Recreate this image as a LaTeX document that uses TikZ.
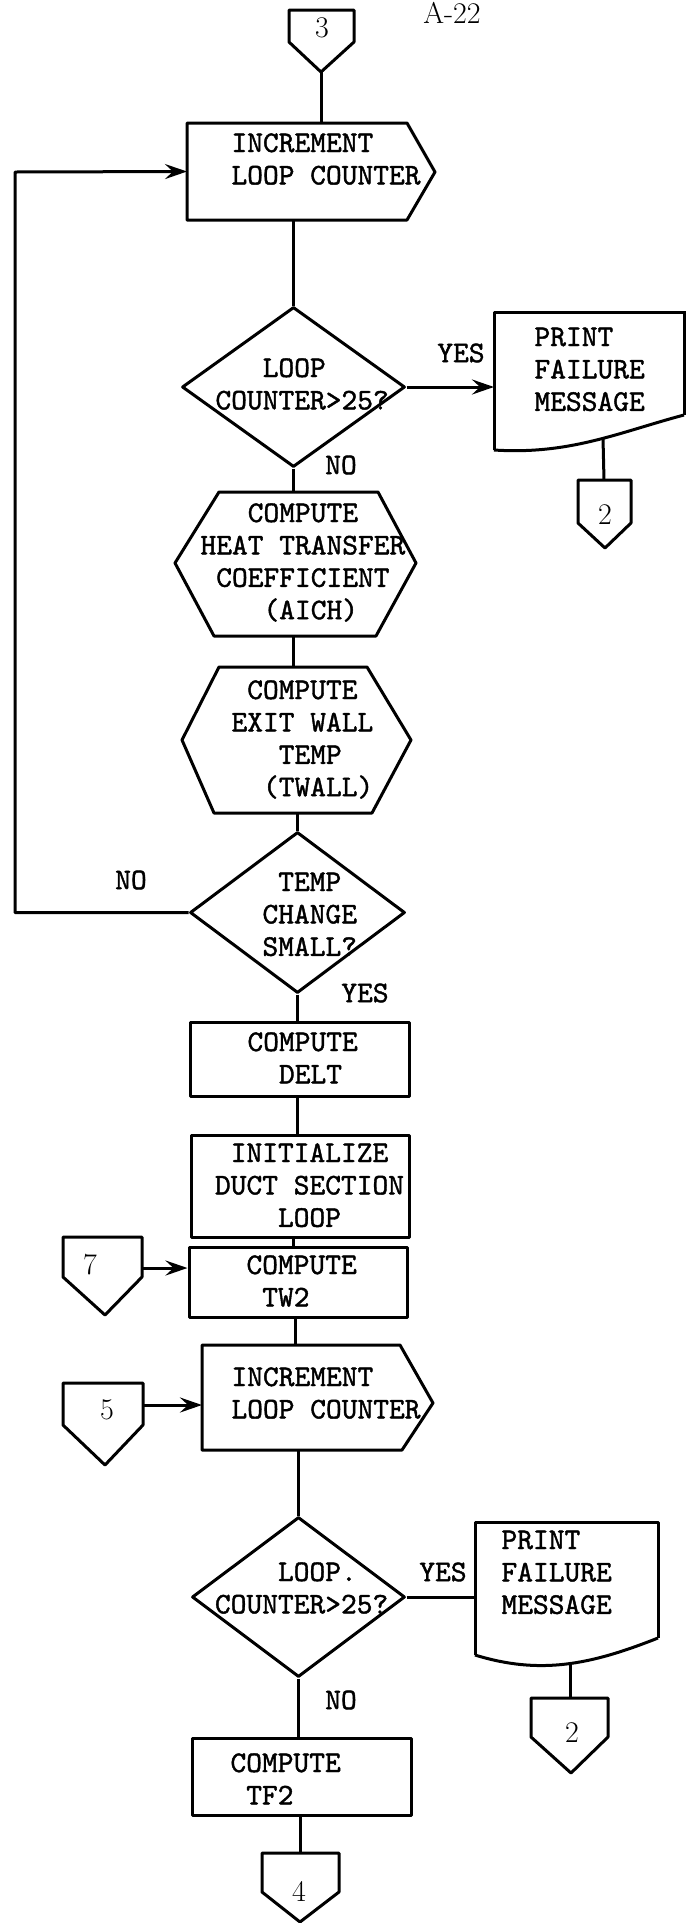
\documentclass[tikz,border=0pt]{standalone}
\usepackage{fontspec}
\newfontfamily\typew{lmmono10-regular.otf}[FakeBold=1.4]
\usetikzlibrary{shapes.geometric,arrows.meta}
% monospaced indent of as many characters as the argument has
\newcommand\pad[1]{\phantom{#1}}
% left-aligned block of typed lines; its baseline is that of the first line
\newcommand\tlines[1]{\vtop{\halign{##\hfil\cr#1\crcr}}}

\begin{document}
\begin{tikzpicture}[x=1pt,y=-1pt,line width=3pt,line join=round,
  flow/.style={draw,line width=3pt},
  frame/.style={rectangle,inner sep=0pt,outer sep=0pt},
  diam/.style={diamond,draw,inner sep=0pt},
  procbox/.style={rectangle,draw,inner sep=0pt},
  txt/.style={font=\typew\fontsize{30}{32.4}\selectfont,inner sep=0pt,anchor=base west},
  lbl/.style={font=\typew\fontsize{30}{32.4}\selectfont,inner sep=0pt},
  digit/.style={font=\fontsize{30}{32}\selectfont,inner sep=0pt},
  arr/.style={-{Stealth[length=22pt,width=15pt,inset=8pt]}}]
\useasboundingbox (0,0) rectangle (686,1923);

% page number
\node[digit,anchor=north] (page) at (452,1) {A-22};

% entry connector 3
\draw[flow] (289,10) -- (354,10) -- (354,42) -- (321,72) -- (289,42) -- cycle;
\node[digit] (c3) at (322,28) {3};
\coordinate (c3tip) at (321,72);

% increment loop counter (first loop)
\node[frame,minimum width=220pt,minimum height=97pt] (inc1) at (297,171.5) {};
\draw[flow] (inc1.north west) -- (inc1.north east) -- (435,172) -- (inc1.south east) -- (inc1.south west) -- cycle;
\node[txt] (inc1t) at (230,152) {\tlines{INCREMENT\cr LOOP COUNTER}};
\draw (c3tip) -- (c3tip |- inc1.north);

% loop counter test
\node[diam,minimum width=223pt,minimum height=160pt] (d1) at (293.5,387) {};
\node[txt] (d1t) at (214,377) {\tlines{\pad{XXX}LOOP\cr COUNTER>25?}};
\draw (d1.north |- inc1.south) -- (d1.north);

% failure message
\node[frame,minimum width=190pt,minimum height=138pt] (pr1) at (589,381) {};
\draw[flow] (pr1.south west) -- (pr1.north west) -- (686,312);
\draw[flow] (684,312) -- (684,415);
\draw[flow] (pr1.south west) .. controls (570,455) and (620,432) .. (684,415);
\node[txt] (pr1t) at (533,346) {\tlines{PRINT\cr FAILURE\cr MESSAGE}};
\node[lbl] (yes1) at (461,353) {YES};
\draw[arr] (d1.east) -- (d1.east -| pr1.west);
\node[lbl] (no1) at (341,465) {NO};

% exit connector 2
\coordinate (pr1w) at (603,438);
\coordinate (c2atop) at (604,480);
\draw[flow] (578,480) -- (631,480) -- (631,523) -- (605,548) -- (578,523) -- cycle;
\node[digit] (c2a) at (605,515) {2};
\draw (pr1w) -- (c2atop);

% heat transfer coefficient
\node[frame,minimum width=241pt,minimum height=144pt] (hex1) at (295.5,564) {};
\draw[flow] (219,492) -- (378,492) -- (416,563) -- (376,636) -- (214,636) -- (175,563) -- cycle;
\node[txt] (hex1t) at (199,522) {\tlines{\pad{XXX}COMPUTE\cr HEAT TRANSFER\cr\pad{X}COEFFICIENT\cr\pad{XXXX}(AICH)}};
\draw (d1.south) -- (d1.south |- hex1.north);

% exit wall temperature
\node[frame,minimum width=229pt,minimum height=146pt] (hex2) at (296.5,740) {};
\draw[flow] (219,667) -- (367,667) -- (411,740) -- (372,813) -- (214,813) -- (182,740) -- cycle;
\node[txt] (hex2t) at (230,699) {\tlines{\pad{X}COMPUTE\cr EXIT WALL\cr\pad{XXX}TEMP\cr\pad{XX}(TWALL)}};
\draw (hex1.south -| d1.south) -- (hex2.north -| d1.south);

% convergence test
\node[diam,minimum width=215pt,minimum height=161pt] (d2) at (297.5,912.5) {};
\node[txt] (d2t) at (261,891) {\tlines{\pad{X}TEMP\cr CHANGE\cr SMALL?}};
\draw (d2.north |- hex2.south) -- (d2.north);
\node[lbl] (no2) at (131,880) {NO};
\node[lbl] (yes2) at (365,993) {YES};
\coordinate (back) at (15,172);
\draw[arr] (d2.west) -| (back) -- (inc1.west);

% delt
\node[procbox,minimum width=219pt,minimum height=74pt] (delt) at (299.5,1059) {};
\node[txt] (deltt) at (246,1051) {\tlines{COMPUTE\cr\pad{XX}DELT}};
\draw (d2.south) -- (d2.south |- delt.north);

% duct section loop
\node[procbox,minimum width=218pt,minimum height=102pt] (init) at (300,1186) {};
\node[txt] (initt) at (213.5,1162) {\tlines{\pad{X}INITIALIZE\cr DUCT SECTION\cr\pad{XXXX}LOOP}};
\draw (d2.south |- delt.south) -- (d2.south |- init.north);

% tw2
\node[procbox,minimum width=218pt,minimum height=70pt] (tw2) at (298,1282) {};
\node[txt] (tw2t) at (245,1274) {\tlines{COMPUTE\cr\pad{X}TW2}};
\draw ([xshift=-7pt]init.south) -- ([xshift=-7pt]init.south |- tw2.north);

% entry connector 7
\draw[flow] (63,1237) -- (142,1237) -- (142,1277) -- (105,1315) -- (63,1277) -- cycle;
\node[digit] (c7) at (90,1265) {7};
\coordinate (c7e) at (142,1268);
\draw[arr] (c7e) -- (c7e -| tw2.west);

% increment loop counter (duct loop)
\node[frame,minimum width=199pt,minimum height=105pt] (inc2) at (301.5,1397.5) {};
\draw[flow] (inc2.north west) -- (400,1345) -- (433,1403) -- (402,1450) -- (inc2.south west) -- cycle;
\node[txt] (inc2t) at (230,1386) {\tlines{INCREMENT\cr LOOP COUNTER}};
\draw ([xshift=-3pt]tw2.south) -- ([xshift=-3pt]tw2.south |- inc2.north);

% entry connector 5
\draw[flow] (63,1383) -- (143,1383) -- (143,1425) -- (105,1465) -- (63,1425) -- cycle;
\node[digit] (c5) at (107,1410) {5};
\coordinate (c5e) at (143,1405);
\draw[arr] (c5e) -- (c5e -| inc2.west);

% loop counter test
\node[diam,minimum width=213pt,minimum height=160pt] (d3) at (298.5,1597) {};
\node[txt] (d3t) at (213.5,1581) {\tlines{\pad{XXXX}LOOP.\cr COUNTER>25?}};
\draw (d3.north |- inc2.south) -- (d3.north);

% failure message
\node[frame,minimum width=183pt,minimum height=133pt] (pr2) at (566.5,1588.5) {};
\draw[flow] (pr2.south west) -- (pr2.north west) -- (pr2.north east) -- (658,1638);
\draw[flow] (pr2.south west) .. controls (540,1675) and (590,1665) .. (658,1638);
\node[txt] (pr2t) at (500,1549) {\tlines{PRINT\cr FAILURE\cr MESSAGE}};
\draw (d3.east) -- (d3.east -| pr2.west);
\node[lbl] (yes3) at (443,1572) {YES};
\node[lbl] (no3) at (341,1700) {NO};

% exit connector 2
\coordinate (pr2w) at (570,1664);
\coordinate (c2btop) at (570,1698);
\draw[flow] (531,1698) -- (608,1698) -- (608,1737) -- (571,1773) -- (531,1737) -- cycle;
\node[digit] (c2b) at (572,1733) {2};
\draw (pr2w) -- (c2btop);

% tf2
\node[procbox,minimum width=219pt,minimum height=77pt] (tf2) at (301.5,1776.5) {};
\node[txt] (tf2t) at (229,1772) {\tlines{COMPUTE\cr\pad{X}TF2}};
\draw (d3.south) -- (d3.south |- tf2.north);

% exit connector 4
\coordinate (c4top) at (300,1853);
\draw[flow] (262,1853) -- (339,1853) -- (339,1892) -- (300,1922) -- (262,1892) -- cycle;
\node[digit] (c4) at (299,1891) {4};
\draw (c4top |- tf2.south) -- (c4top);
\end{tikzpicture}
\end{document}
